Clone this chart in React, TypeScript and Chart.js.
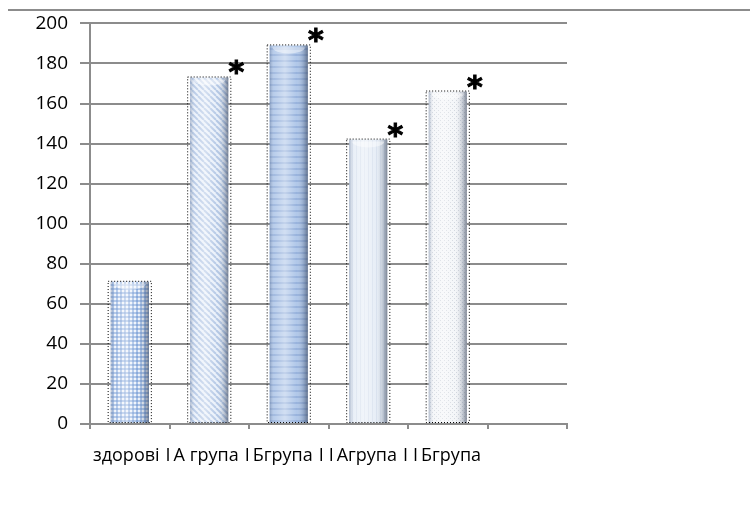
import React, { useEffect, useRef } from "react";
import { Chart, registerables } from "chart.js";

Chart.register(...registerables);

const categories = ["здорові", "IA група", "IБгрупа", "IIAгрупа", "IIБгрупа", ""];
const values = [71, 173, 189, 142, 166, null];
const markers = ["", "*", "*", "*", "*", ""];
const yMin = 0;
const yMax = 200;
const yStep = 20;

const GRID = "#8c8c8c";

function makePattern(kind: number): CanvasPattern | string {
  const c = document.createElement("canvas");
  const s = kind === 1 ? 6 : kind === 2 ? 6 : 4;
  c.width = s;
  c.height = s;
  const g = c.getContext("2d")!;
  if (kind === 0) {
    g.fillStyle = "#eef3fb";
    g.fillRect(0, 0, s, s);
    g.fillStyle = "#a6c0e6";
    g.fillRect(0, 0, s, 2);
    g.fillRect(0, 0, 2, s);
    g.fillStyle = "#82a4d8";
    g.fillRect(0, 0, 2, 2);
  } else if (kind === 1) {
    g.fillStyle = "#e9f0fa";
    g.fillRect(0, 0, s, s);
    g.strokeStyle = "#b0c5e4";
    g.lineWidth = 2;
    for (const o of [-6, 0, 6]) {
      g.beginPath();
      g.moveTo(o, 0);
      g.lineTo(o + 6, 6);
      g.stroke();
    }
  } else if (kind === 2) {
    g.fillStyle = "#adc5e8";
    g.fillRect(0, 0, s, s);
    g.fillStyle = "#93afdb";
    g.fillRect(0, 0, s, 2);
  } else if (kind === 3) {
    g.fillStyle = "#e6edf6";
    g.fillRect(0, 0, s, s);
    g.fillStyle = "#d8e1ee";
    g.fillRect(0, 0, 1, s);
  } else {
    g.fillStyle = "#f3f5f8";
    g.fillRect(0, 0, s, s);
    g.fillStyle = "#d0d5dd";
    g.fillRect(0, 0, 1, 1);
    g.fillRect(2, 2, 1, 1);
  }
  return g.createPattern(c, "repeat") || "#c0d0e8";
}

const decorPlugin = {
  id: "decor",
  afterDatasetsDraw(chart: any) {
    const ctx = chart.ctx as CanvasRenderingContext2D;
    const meta = chart.getDatasetMeta(0);
    meta.data.forEach((bar: any, i: number) => {
      if (values[i] == null) return;
      const w = bar.width;
      const left = bar.x - w / 2;
      const top = bar.y;
      const bottom = bar.base;
      ctx.save();
      const gr = ctx.createLinearGradient(left, 0, left + w, 0);
      gr.addColorStop(0, "rgba(90,110,145,0.45)");
      gr.addColorStop(0.12, "rgba(255,255,255,0.15)");
      gr.addColorStop(0.4, "rgba(255,255,255,0.45)");
      gr.addColorStop(0.7, "rgba(255,255,255,0.05)");
      gr.addColorStop(0.9, "rgba(70,85,110,0.3)");
      gr.addColorStop(1, "rgba(50,60,80,0.6)");
      ctx.fillStyle = gr;
      ctx.fillRect(left, top, w, bottom - top);
      ctx.fillStyle = "rgba(255,255,255,0.45)";
      ctx.beginPath();
      ctx.ellipse(bar.x, top + 2, w / 2 - 3, 6, 0, 0, Math.PI);
      ctx.fill();
      ctx.setLineDash([1, 2]);
      ctx.strokeStyle = "#000";
      ctx.lineWidth = 1;
      ctx.strokeRect(left - 2.5, top - 0.5, w + 5, bottom - top);
      ctx.setLineDash([]);
      if (markers[i]) {
        ctx.fillStyle = "#000";
        ctx.strokeStyle = "#000";
        ctx.lineWidth = 1;
        ctx.font = "bold 30px 'DejaVu Sans'";
        ctx.textAlign = "center";
        ctx.textBaseline = "alphabetic";
        const mx = bar.x + w / 2 + 8;
        const my = top + 5;
        ctx.fillText(markers[i], mx, my);
        ctx.strokeText(markers[i], mx, my);
      }
      ctx.restore();
    });
  },
  afterDraw(chart: any) {
    const ctx = chart.ctx as CanvasRenderingContext2D;
    ctx.save();
    ctx.strokeStyle = GRID;
    ctx.lineWidth = 2;
    ctx.beginPath();
    ctx.moveTo(8, 10);
    ctx.lineTo(750, 10);
    ctx.stroke();
    ctx.font = "18px 'Open Sans'";
    ctx.fillStyle = "#000";
    ctx.textBaseline = "middle";
    ctx.textAlign = "left";
    let x = chart.chartArea.left + 3;
    const y = chart.chartArea.bottom + 32;
    categories.forEach((c) => {
      if (!c) return;
      for (const ch of c) {
        if (ch === "I") x += 2;
        ctx.fillText(ch, x, y);
        x += ctx.measureText(ch).width;
        if (ch === "I") x += 3;
      }
      x += 4;
    });
    ctx.restore();
  },
};

export default function App() {
  const ref = useRef<HTMLCanvasElement | null>(null);
  useEffect(() => {
    if (!ref.current) return;
    const patterns = [0, 1, 2, 3, 4, 4].map((k) => makePattern(k));
    const chart = new Chart(ref.current, {
      type: "bar",
      data: {
        labels: categories,
        datasets: [
          {
            data: values as any,
            backgroundColor: patterns as any,
            borderWidth: 0,
            barPercentage: 0.48,
            categoryPercentage: 1,
          },
        ],
      },
      options: {
        animation: false,
        responsive: true,
        maintainAspectRatio: false,
        layout: { padding: { top: 14, right: 183, bottom: 90, left: 0 } },
        plugins: { legend: { display: false }, tooltip: { enabled: false } },
        scales: {
          x: {
            offset: true,
            grid: {
              offset: true,
              drawOnChartArea: false,
              drawTicks: true,
              tickLength: 5,
              color: GRID,
              lineWidth: 2,
            },
            border: { color: GRID, width: 2 },
            ticks: { display: false },
            afterFit: (s: any) => {
              s.height = 6;
            },
          },
          y: {
            min: yMin,
            max: yMax,
            ticks: {
              stepSize: yStep,
              color: "#000",
              padding: 12,
              font: { size: 19, family: "'Open Sans'" },
            },
            grid: { color: GRID, lineWidth: 2, tickLength: 10, drawTicks: true },
            border: { color: GRID, width: 2 },
            afterFit: (s: any) => {
              s.width = 90;
            },
          },
        },
      },
      plugins: [decorPlugin],
    });
    return () => chart.destroy();
  }, []);
  return (
    <div style={{ position: "absolute", left: 0, top: 0, width: 750, height: 520, background: "#fff" }}>
      <canvas ref={ref} />
    </div>
  );
}
